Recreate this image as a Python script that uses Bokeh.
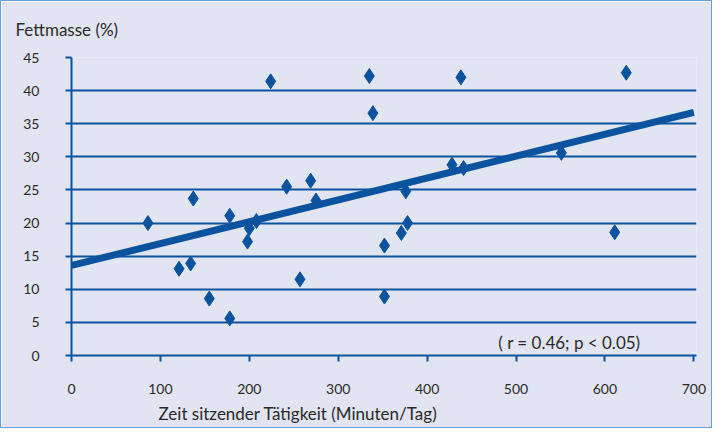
from bokeh.plotting import figure
from bokeh.models import Label, Range1d, FixedTicker, Title
from bokeh.embed import file_html
from bokeh.resources import INLINE

# Data
sit_minutes = [86, 121, 134, 137, 155, 178, 178, 198, 200, 208, 224, 242, 257, 269, 275,
               335, 339, 352, 352, 371, 378, 376, 428, 441, 438, 551, 611, 624]
fat_mass = [20.0, 13.1, 13.9, 23.7, 8.6, 5.6, 21.1, 17.2, 19.2, 20.3, 41.4, 25.5, 11.5, 26.4, 23.4,
            42.2, 36.6, 16.6, 8.9, 18.5, 20.0, 24.8, 28.8, 28.3, 42.0, 30.6, 18.6, 42.7]
reg_x = [0, 700]
reg_y = [13.6, 36.7]
x_ticks = [0, 100, 200, 300, 400, 500, 600, 700]
y_ticks = [0, 5, 10, 15, 20, 25, 30, 35, 40, 45]
y_title = "Fettmasse (%)"
x_title = "Zeit sitzender Tätigkeit (Minuten/Tag)"
stat_text = "( r = 0.46; p < 0.05)"

BLUE = "#0b539f"
BG = "#e1e5f1"
FONT = "Lato"
TXT = "#2a2a2a"

p = figure(width=712, height=428, output_backend="svg", toolbar_location=None,
           x_range=Range1d(0, 703), y_range=Range1d(0, 45),
           min_border_left=70, min_border_right=17, min_border_top=56, min_border_bottom=74)
p.background_fill_color = BG
p.border_fill_color = BG
p.outline_line_color = None
p.styles = {"border": "1px solid #6a9fd6"}

p.title.text = y_title
p.title.align = "left"
p.title.vertical_align = "top"
p.title.offset = -56
p.title.standoff = 32
p.title.text_font = FONT
p.title.text_font_size = "17px"
p.title.text_font_style = "normal"
p.title.text_color = TXT

p.xgrid.visible = False
p.ygrid.grid_line_color = BLUE
p.ygrid.grid_line_width = 2
p.ygrid.ticker = FixedTicker(ticks=y_ticks)

for ax in (p.xaxis[0], p.yaxis[0]):
    ax.axis_line_color = BLUE
    ax.axis_line_width = 2
    ax.major_tick_line_color = BLUE
    ax.major_tick_line_width = 2
    ax.major_tick_in = 0
    ax.major_tick_out = 6
    ax.minor_tick_line_color = None
    ax.major_label_text_font = FONT
    ax.major_label_text_font_size = "14px"
    ax.major_label_text_color = TXT

p.xaxis.ticker = FixedTicker(ticks=x_ticks)
p.yaxis.ticker = FixedTicker(ticks=y_ticks)
p.xaxis.major_label_standoff = 22
p.yaxis.major_label_standoff = 26

p.add_layout(Title(text=x_title, align="left", offset=87, standoff=8,
                   text_font=FONT, text_font_size="17px", text_font_style="normal",
                   text_color=TXT), "below")

p.line(reg_x, reg_y, line_color=BLUE, line_width=7)
p.scatter(sit_minutes, fat_mass, marker="diamond", size=15,
          fill_color=BLUE, line_color=BLUE)

p.add_layout(Label(x=480, y=2.0, text=stat_text, text_font=FONT, text_font_size="17px",
                   text_color=TXT, text_baseline="middle"))

open("out.html", "w").write(file_html(p, INLINE))
